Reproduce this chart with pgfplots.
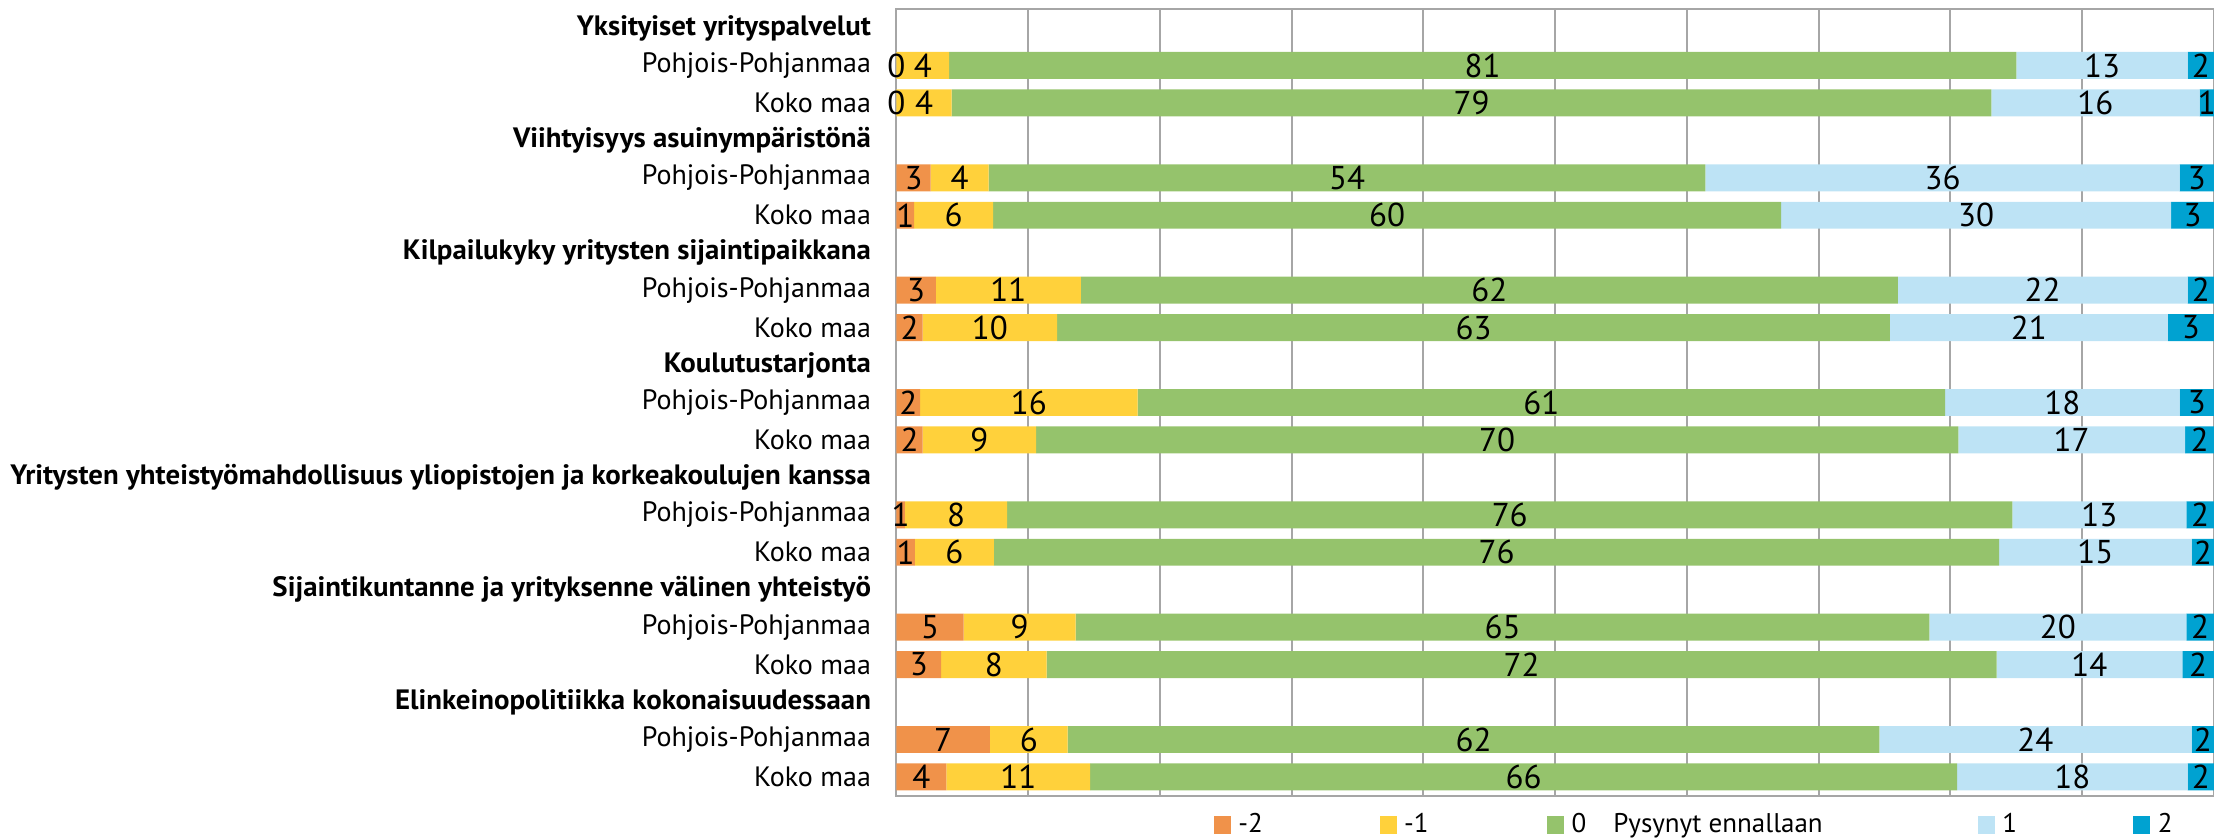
\documentclass[border=0pt]{standalone}
\usepackage{fontspec}
\setmainfont{PT Sans}
\newfontfamily\hd[FakeStretch=1.03]{PT Sans}
\usepackage{pgfplots}
\usepackage{pgfplotstable}
\pgfplotsset{compat=1.18}
\definecolor{cA}{HTML}{F0924A}
\definecolor{cB}{HTML}{FFD13B}
\definecolor{cC}{HTML}{95C36C}
\definecolor{cD}{HTML}{BDE3F5}
\definecolor{cE}{HTML}{00A2D1}
\definecolor{gridc}{HTML}{A6A6A6}
\pgfplotstableread{
y a b c d e la lb lc ld le
1 0 4 81 13 2 0 4 81 13 2
2 0 4.2 78.9 15.8 1.1 0 4 79 16 1
4 2.6 4.4 54.4 36 2.6 3 4 54 36 3
5 1.35 6 59.8 29.6 3.25 1 6 60 30 3
7 3 11 62 22 2 3 11 62 22 2
8 2 10.2 63.2 21.1 3.5 2 10 63 21 3
10 1.8 16.5 61.3 17.8 2.6 2 16 61 18 3
11 2 8.6 70 17.2 2.2 2 9 70 17 2
13 0.65 7.75 76.3 13.2 2.1 1 8 76 13 2
14 1.4 6 76.3 14.6 1.7 1 6 76 15 2
16 5.1 8.5 64.8 19.5 2.1 5 9 65 20 2
17 3.4 8 72.1 14.1 2.4 3 8 72 14 2
19 7.1 5.9 61.6 23.7 1.7 7 6 62 24 2
20 3.8 10.9 65.8 17.5 2 4 11 66 18 2
}\datatable
\pgfplotsset{
  frame/.style={
    scale only axis, width=658.5pt, height=393pt,
    xmin=0, xmax=100, ymin=-0.5, ymax=20.5, y dir=reverse,
  }
}
\begin{document}
\begin{tikzpicture}
\path[use as bounding box] (-448pt,-22pt) rectangle (658.5pt,397.65pt);
\begin{axis}[
  frame, xbar stacked, bar width=0.72,
  xtick={0,10,...,100}, xticklabels={},
  xmajorgrids, major grid style={gridc, line width=1pt},
  axis line style={gridc, line width=1pt},
  major tick length=0pt,
  ytick={0,...,20},
  yticklabels={{\hd\bfseries Yksityiset yrityspalvelut},Pohjois-Pohjanmaa,Koko maa,
    {\hd\bfseries Viihtyisyys asuinympäristönä},Pohjois-Pohjanmaa,Koko maa,
    {\hd\bfseries Kilpailukyky yritysten sijaintipaikkana},Pohjois-Pohjanmaa,Koko maa,
    {\hd\bfseries Koulutustarjonta},Pohjois-Pohjanmaa,Koko maa,
    {\hd\bfseries Yritysten yhteistyömahdollisuus yliopistojen ja korkeakoulujen kanssa},Pohjois-Pohjanmaa,Koko maa,
    {\hd\bfseries Sijaintikuntanne ja yrityksenne välinen yhteistyö},Pohjois-Pohjanmaa,Koko maa,
    {\hd\bfseries Elinkeinopolitiikka kokonaisuudessaan},Pohjois-Pohjanmaa,Koko maa},
  yticklabel style={font=\fontsize{14}{16}\selectfont, inner sep=0pt, xshift=-12.5pt, anchor=east},
  legend columns=5,
  legend style={at={(rel axis cs:0.2407,0)}, anchor=west, yshift=-14.5pt, draw=none, fill=none,
    inner sep=0pt, font=\fontsize{13.5}{15}\selectfont,
    nodes={inner xsep=0pt, inner ysep=0pt},
    /tikz/column sep=0pt},
]
\addplot[fill=cA, draw=none,
  legend image code/.code={\fill[cA] (0pt,-4.5pt) rectangle (8.5pt,4.5pt); \path (12.25pt,0pt);}]
  table[x=a, y=y] {\datatable};
\addplot[fill=cB, draw=none,
  legend image code/.code={\fill[cB] (0pt,-4.5pt) rectangle (8.5pt,4.5pt); \path (12.25pt,0pt);}]
  table[x=b, y=y] {\datatable};
\addplot[fill=cC, draw=none,
  legend image code/.code={\fill[cC] (0pt,-4.5pt) rectangle (8.5pt,4.5pt); \path (12.25pt,0pt);}]
  table[x=c, y=y] {\datatable};
\addplot[fill=cD, draw=none,
  legend image code/.code={\fill[cD] (0pt,-4.5pt) rectangle (8.5pt,4.5pt); \path (12.25pt,0pt);}]
  table[x=d, y=y] {\datatable};
\addplot[fill=cE, draw=none,
  legend image code/.code={\fill[cE] (0pt,-4.5pt) rectangle (8.5pt,4.5pt); \path (12.25pt,0pt);}]
  table[x=e, y=y] {\datatable};
\legend{\makebox[70.5pt][l]{-2},\makebox[71.5pt][l]{-1},\makebox[203pt][l]{0\quad Pysynyt ennallaan},\makebox[65.5pt][l]{1},2}
\end{axis}
\begin{axis}[
  frame, hide axis, clip=false,
  point meta=explicit symbolic,
  nodes near coords={\pgfplotspointmeta},
  every node near coord/.append style={font=\fontsize{16.5}{18}\selectfont, anchor=center, inner sep=0pt},
]
\addplot[only marks, mark=none] table[x expr=\thisrow{a}/2, y=y, meta=la] {\datatable};
\addplot[only marks, mark=none] table[x expr=\thisrow{a}+\thisrow{b}/2, y=y, meta=lb] {\datatable};
\addplot[only marks, mark=none] table[x expr=\thisrow{a}+\thisrow{b}+\thisrow{c}/2, y=y, meta=lc] {\datatable};
\addplot[only marks, mark=none] table[x expr=\thisrow{a}+\thisrow{b}+\thisrow{c}+\thisrow{d}/2, y=y, meta=ld] {\datatable};
\addplot[only marks, mark=none] table[x expr=\thisrow{a}+\thisrow{b}+\thisrow{c}+\thisrow{d}+\thisrow{e}/2, y=y, meta=le] {\datatable};
\end{axis}
\end{tikzpicture}
\end{document}
